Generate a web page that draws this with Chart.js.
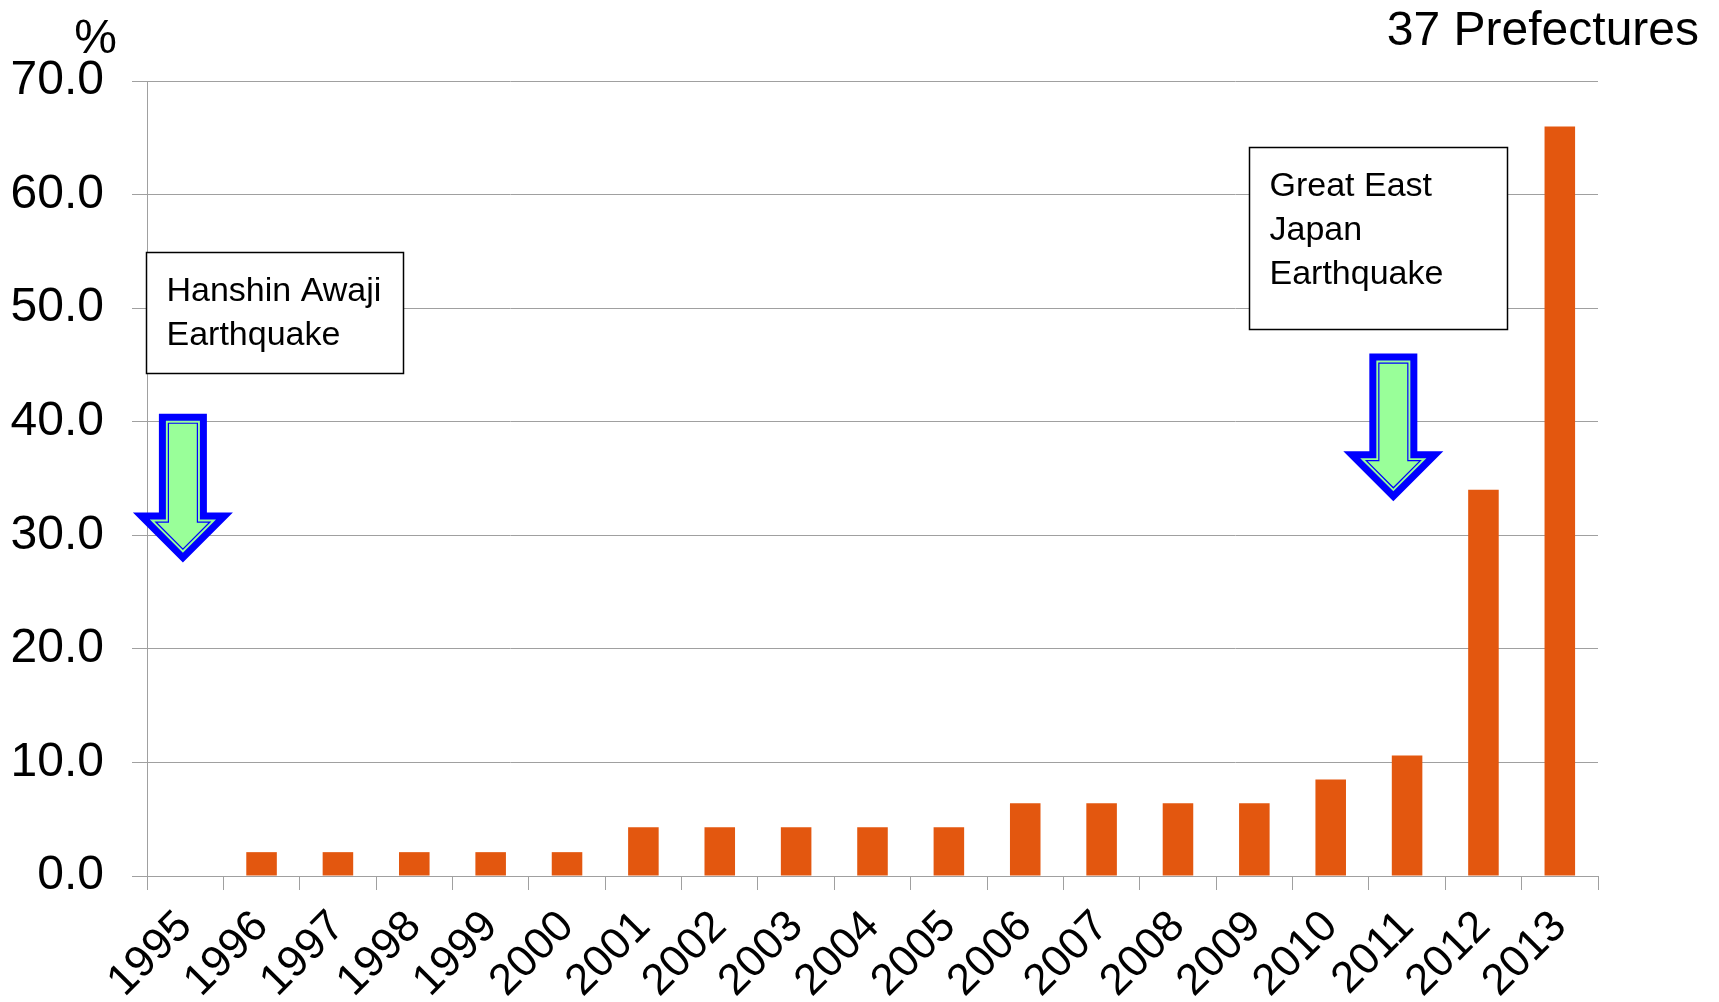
<!DOCTYPE html>
<html>
<head>
<meta charset="utf-8">
<script src="https://cdn.jsdelivr.net/npm/chart.js@4/dist/chart.umd.min.js"></script>
<style>
  html, body { margin: 0; padding: 0; background: #fff; }
  #wrap { width: 1719px; height: 1002px; }
</style>
</head>
<body>
<div id="wrap"><canvas id="chart" width="1719" height="1002"></canvas></div>
<script>
// data
const years = ['1995', '1996', '1997', '1998', '1999', '2000', '2001', '2002', '2003', '2004',
               '2005', '2006', '2007', '2008', '2009', '2010', '2011', '2012', '2013'];
const shareValues = [0, 2.1, 2.1, 2.1, 2.1, 2.1, 4.3, 4.3, 4.3, 4.3,
                     4.3, 6.4, 6.4, 6.4, 6.4, 8.5, 10.6, 34.0, 66.0];
const yMax = 70;
const yStep = 10;

const unitLabel = '%';
const cornerLabel = '37 Prefectures';

// annotation boxes + arrows, placed in category index / value units
const noteBoxes = [
  { lines: ['Hanshin Awaji', 'Earthquake'], left: -0.51, top: 54.9, w: 257, h: 121 },
  { lines: ['Great East', 'Japan', 'Earthquake'], left: 13.93, top: 64.2, w: 258, h: 182 }
];
const noteArrows = [
  { at: -0.03, top: 40.7, tip: 27.6 },
  { at: 15.82, top: 46.0, tip: 33.0 }
];

const FONT = "'Liberation Sans', Arial, sans-serif";

function arrowPath(ctx, cx, top, tip, hw, HW, d) {
  const by = tip - HW;   // 45 degree head
  const ihw = hw - d;
  const iHW = HW - d * (1 + Math.SQRT2);
  const itop = top + d;
  const iby = by + d;
  const itip = tip - d * Math.SQRT2;
  ctx.beginPath();
  ctx.moveTo(cx - ihw, itop);
  ctx.lineTo(cx + ihw, itop);
  ctx.lineTo(cx + ihw, iby);
  ctx.lineTo(cx + iHW, iby);
  ctx.lineTo(cx, itip);
  ctx.lineTo(cx - iHW, iby);
  ctx.lineTo(cx - ihw, iby);
  ctx.closePath();
}

const notesPlugin = {
  id: 'notes',
  afterDraw(chart) {
    const { ctx, chartArea, scales: { x, y } } = chart;
    ctx.save();

    // unit + corner text
    ctx.fillStyle = '#000';
    ctx.font = '48px ' + FONT;
    ctx.textAlign = 'right';
    ctx.textBaseline = 'alphabetic';
    ctx.fillText(unitLabel, chartArea.left - 30, chartArea.top - 28);
    ctx.font = '48px ' + FONT;
    ctx.fillText(cornerLabel, chart.width - 20, 45);

    // boxes
    noteBoxes.forEach(b => {
      const bx = Math.round(x.getPixelForValue(b.left)) + 0.5;
      const by = Math.round(y.getPixelForValue(b.top)) + 0.5;
      ctx.fillStyle = '#fff';
      ctx.fillRect(bx, by, b.w, b.h);
      ctx.strokeStyle = '#000';
      ctx.lineWidth = 1.5;
      ctx.strokeRect(bx, by, b.w, b.h);
      ctx.fillStyle = '#000';
      ctx.font = '34px ' + FONT;
      ctx.textAlign = 'left';
      b.lines.forEach((t, i) => {
        ctx.fillText(t, bx + 20, by + 48 + i * 44);
      });
    });

    // arrows
    noteArrows.forEach(a => {
      const cx = x.getPixelForValue(a.at);
      const top = y.getPixelForValue(a.top);
      const tip = y.getPixelForValue(a.tip);
      arrowPath(ctx, cx, top, tip, 24, 50, 0);
      ctx.fillStyle = '#0000ff';
      ctx.fill();
      arrowPath(ctx, cx, top, tip, 24, 50, 7);
      ctx.fillStyle = '#99ff99';
      ctx.fill();
      arrowPath(ctx, cx, top, tip, 24, 50, 9.5);
      ctx.strokeStyle = '#0000ff';
      ctx.lineWidth = 1.2;
      ctx.stroke();
    });

    ctx.restore();
  }
};

new Chart(document.getElementById('chart'), {
  type: 'bar',
  data: {
    labels: years,
    datasets: [{
      data: shareValues,
      backgroundColor: '#e3570f',
      borderWidth: 0,
      barPercentage: 0.4,
      categoryPercentage: 1.0
    }]
  },
  options: {
    responsive: false,
    animation: false,
    layout: { padding: { top: 81, right: 121, left: 0, bottom: 0 } },
    plugins: {
      legend: { display: false },
      tooltip: { enabled: false }
    },
    scales: {
      x: {
        afterFit: s => { s.height = 126; },
        grid: {
          offset: true,
          drawOnChartArea: false,
          drawTicks: true,
          tickLength: 14,
          color: '#a0a0a0',
          lineWidth: 1
        },
        border: { color: '#a0a0a0', width: 1 },
        ticks: {
          color: '#000',
          font: { family: FONT, size: 44 },
          maxRotation: 45,
          minRotation: 45,
          autoSkip: false,
          padding: 11
        }
      },
      y: {
        min: 0,
        max: yMax,
        afterFit: s => { s.width = 147; },
        grid: {
          color: '#a0a0a0',
          lineWidth: 1,
          tickLength: 15
        },
        border: { color: '#a0a0a0', width: 1 },
        ticks: {
          stepSize: yStep,
          color: '#000',
          font: { family: FONT, size: 48 },
          padding: 28,
          callback: v => v.toFixed(1)
        }
      }
    }
  },
  plugins: [notesPlugin]
});
</script>
</body>
</html>
